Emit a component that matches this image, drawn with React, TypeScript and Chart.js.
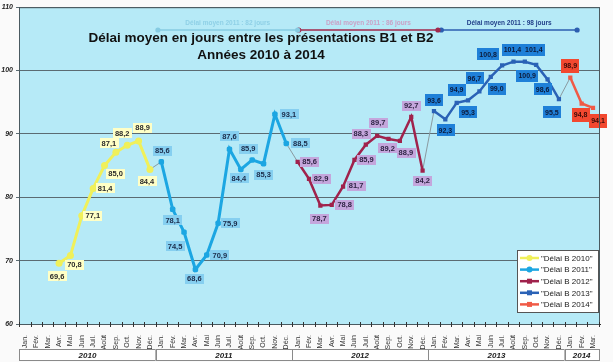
import React, { useEffect, useRef } from 'react';
import { Chart, registerables } from 'chart.js';
Chart.register(...registerables);

const FONT = '"Liberation Sans", Arial, sans-serif';

const monthLabels = ['Jan.', 'Fév.', 'Mar.', 'Avr.', 'Mai', 'Juin', 'Juil.', 'Août', 'Sep.', 'Oct.', 'Nov.', 'Déc.'];
const years = ['2010', '2011', '2012', '2013', '2014'];
const monthsPerYear = [12, 12, 12, 12, 3];

const delai2010 = [null, null, null, 69.6, 70.8, 77.1, 81.4, 85.0, 87.1, 88.2, 88.9, 84.4];
const delai2011 = [85.6, 78.1, 74.5, 68.6, 70.9, 75.9, 87.6, 84.4, 85.9, 85.3, 93.1, 88.5];
const delai2012 = [85.6, 82.9, 78.7, 78.8, 81.7, 85.9, 88.3, 89.7, 89.2, 88.9, 92.7, 84.2];
const delai2013 = [93.6, 92.3, 94.9, 95.3, 96.7, 99.0, 100.8, 101.4, 101.4, 100.9, 98.6, 95.5];
const delai2014 = [98.9, 94.8, 94.1];

const avgTexts = ['Délai moyen 2011 : 82 jours', 'Délai moyen 2011 : 86 jours', 'Délai moyen 2011 : 98 jours'];
const titleLines = ['Délai moyen en jours entre les présentations B1 et B2', 'Années 2010 à 2014'];

// ---- layout / style (not data) ----
const AVG_LEVEL = 106.4;
const avgSpans = [[11.7, 24.0], [24.1, 36.35], [36.65, 48.6]];
const avgStyles = [
  { line: '#86cbe2', text: '#8fd0e6' },
  { line: '#a0284c', text: '#caa2c6' },
  { line: '#2c5eb0', text: '#22408a' },
];

const off2010 = [null, null, null, [-2, 13], [4, 9], [11, 0], [12, 0], [11, 8], [-7, -9], [-5, -12], [4, -13], [-3, 12]];
const off2011 = [[1, -11], [0, 11], [-9, 14], [-1, 9], [13, 0], [12, 0], [0, -13], [-2, 9], [-4, -11], [0, 11], [14, 0], [14, 0]];
const off2012 = [[12, 0], [12, 0], [-1, 13], [13, 0], [13, -1], [12, 0], [-5, -11], [1, -13], [-1, 9], [6, 12], [0, -11], [0, 10]];
const off2013 = [[0, -11], [0, 11], [0, -13], [0, 12], [-5, -13], [6, 12], [-14, -11], [-1, -12], [9, -12], [-9, 11], [-5, 10], [-7, 13]];
const off2014 = [[0, -12], [-1, 11], [5, 13]];

const allLabels: string[] = years.flatMap((_, yi) => monthLabels.slice(0, monthsPerYear[yi]));
const yearStart = monthsPerYear.map((_, i) => monthsPerYear.slice(0, i).reduce((a, b) => a + b, 0));

const seriesDefs = [
  { label: '"Délai B 2010"', values: delai2010, offsets: off2010, color: '#f0f05a', style: 'circle', radius: 3.5, width: 3, bg: '#ffffc6', fg: '#2a2a2a', boxH: 10 },
  { label: '"Délai B 2011"', values: delai2011, offsets: off2011, color: '#1ca6e2', style: 'rectRounded', radius: 3.2, width: 3, bg: '#86cff0', fg: '#1a2a48', boxH: 10 },
  { label: '"Délai B 2012"', values: delai2012, offsets: off2012, color: '#a0224c', style: 'rect', radius: 3, width: 2.5, bg: '#c4a6dc', fg: '#2e2444', boxH: 10 },
  { label: '"Délai B 2013"', values: delai2013, offsets: off2013, color: '#2a62b6', style: 'rect', radius: 3, width: 2.5, bg: '#1f80d8', fg: '#0c1a3a', boxH: 12 },
  { label: '"Délai B 2014"', values: delai2014, offsets: off2014, color: '#f05a46', style: 'rect', radius: 3, width: 2.5, bg: '#f2482f', fg: '#3a0c08', boxH: 14 },
];

function fmt(v: number) {
  return v.toFixed(1).replace('.', ',');
}

function seriesPoints(si: number) {
  const vals = seriesDefs[si].values;
  const pts: { x: number; y: number }[] = [];
  vals.forEach((v, i) => {
    if (v !== null && v !== undefined) pts.push({ x: yearStart[si] + i, y: v as number });
  });
  return pts;
}

export default function App() {
  const ref = useRef<HTMLCanvasElement>(null);

  useEffect(() => {
    document.body.style.margin = '0';
    const canvas = ref.current!;

    const datasets: any[] = [];
    seriesDefs.forEach((s, si) => {
      datasets.push({
        type: 'line',
        label: s.label,
        data: seriesPoints(si),
        borderColor: s.color,
        backgroundColor: s.color,
        borderWidth: s.width,
        pointStyle: s.style,
        pointRadius: s.radius,
        pointBackgroundColor: s.color,
        pointBorderColor: s.color,
        pointBorderWidth: 0,
        tension: 0,
        order: si + 1,
        isSeries: true,
        seriesIndex: si,
      });
    });
    // connectors between years
    for (let si = 0; si < seriesDefs.length - 1; si++) {
      const a = seriesPoints(si);
      const b = seriesPoints(si + 1);
      datasets.push({
        type: 'line',
        data: [a[a.length - 1], b[0]],
        borderColor: '#8a9aa0',
        borderWidth: 1,
        pointRadius: 0,
        tension: 0,
        order: 20,
      });
    }
    // average lines
    avgSpans.forEach((sp, i) => {
      datasets.push({
        type: 'line',
        data: [{ x: sp[0], y: AVG_LEVEL }, { x: sp[1], y: AVG_LEVEL }],
        borderColor: avgStyles[i].line,
        backgroundColor: avgStyles[i].line,
        borderWidth: 1.5,
        pointRadius: 2.6,
        pointBackgroundColor: avgStyles[i].line,
        pointBorderWidth: 0,
        tension: 0,
        order: 15,
      });
    });

    const decor = {
      id: 'decor',
      beforeDraw(chart: any) {
        const { ctx, chartArea: a } = chart;
        ctx.save();
        ctx.fillStyle = '#fafafa';
        ctx.fillRect(0, 0, chart.width, chart.height);
        ctx.fillStyle = '#b6eaf7';
        ctx.fillRect(a.left, a.top, a.right - a.left, a.bottom - a.top);
        ctx.restore();
      },
      afterDatasetsDraw(chart: any) {
        const { ctx } = chart;
        ctx.save();
        chart.data.datasets.forEach((ds: any, di: number) => {
          if (!ds.isSeries) return;
          const s = seriesDefs[ds.seriesIndex];
          const meta = chart.getDatasetMeta(di);
          let k = 0;
          s.values.forEach((v: any, i: number) => {
            if (v === null || v === undefined) return;
            const el = meta.data[k++];
            const off = s.offsets[i] || [0, 0];
            const cx = el.x + off[0];
            const cy = el.y + off[1];
            const txt = fmt(v);
            ctx.font = `bold ${s.boxH > 10 ? 7 : 7.5}px ${FONT}`;
            const w = ctx.measureText(txt).width + 4;
            const h = s.boxH;
            ctx.fillStyle = s.bg;
            ctx.fillRect(Math.round(cx - w / 2), Math.round(cy - h / 2), Math.round(w), h);
            ctx.fillStyle = s.fg;
            ctx.textAlign = 'center';
            ctx.textBaseline = 'middle';
            ctx.fillText(txt, cx, cy + 0.5);
          });
        });
        ctx.restore();
      },
      afterDraw(chart: any) {
        const { ctx, chartArea: a } = chart;
        const xs = chart.scales.x;
        const ys = chart.scales.y;
        ctx.save();
        // plot border
        ctx.strokeStyle = '#4a5a60';
        ctx.lineWidth = 1;
        ctx.strokeRect(a.left + 0.5, a.top + 0.5, a.right - a.left - 1, a.bottom - a.top);
        // x tick marks at month boundaries
        ctx.strokeStyle = '#333';
        for (let i = 0; i <= allLabels.length; i++) {
          const x = Math.round(xs.getPixelForValue(i - 0.5)) + 0.5;
          if (x < a.left - 1 || x > a.right + 1) continue;
          ctx.beginPath();
          ctx.moveTo(x, a.bottom - 2);
          ctx.lineTo(x, a.bottom + 3);
          ctx.stroke();
        }
        // year boxes
        years.forEach((y, yi) => {
          const s = yearStart[yi];
          const e = s + monthsPerYear[yi] - 1;
          const x1 = Math.max(a.left, xs.getPixelForValue(s - 0.5));
          const x2 = Math.min(a.right, xs.getPixelForValue(e + 0.5));
          ctx.fillStyle = '#ffffff';
          ctx.fillRect(x1, 349, x2 - x1, 12);
          ctx.strokeStyle = '#8a8a8a';
          ctx.strokeRect(Math.round(x1) + 0.5, 349.5, Math.round(x2 - x1), 11);
          ctx.fillStyle = '#222';
          ctx.font = `bold italic 8px ${FONT}`;
          ctx.textAlign = 'center';
          ctx.textBaseline = 'middle';
          ctx.fillText(y, (x1 + x2) / 2, 355.5);
        });
        // title
        ctx.fillStyle = '#111';
        ctx.font = `bold 13.5px ${FONT}`;
        ctx.textAlign = 'center';
        ctx.textBaseline = 'middle';
        ctx.fillText(titleLines[0], 261, 38);
        ctx.fillText(titleLines[1], 261, 55);
        // average texts
        const yAvg = ys.getPixelForValue(AVG_LEVEL);
        avgSpans.forEach((sp, i) => {
          const cx = (xs.getPixelForValue(sp[0]) + xs.getPixelForValue(sp[1])) / 2;
          ctx.font = `bold 6.5px ${FONT}`;
          ctx.fillStyle = avgStyles[i].text;
          ctx.fillText(avgTexts[i], cx, yAvg - 7);
        });
        // legend
        const lx = 517, ly = 250, lw = 81, lh = 62;
        ctx.fillStyle = '#ffffff';
        ctx.fillRect(lx, ly, lw, lh);
        ctx.strokeStyle = '#555';
        ctx.strokeRect(lx + 0.5, ly + 0.5, lw, lh);
        seriesDefs.forEach((s, i) => {
          const yy = 258 + i * 11.6;
          ctx.strokeStyle = s.color;
          ctx.lineWidth = 2.5;
          ctx.beginPath();
          ctx.moveTo(520, yy);
          ctx.lineTo(539, yy);
          ctx.stroke();
          ctx.fillStyle = s.color;
          if (s.style === 'circle' || s.style === 'rectRounded') {
            ctx.beginPath();
            ctx.arc(529.5, yy, 3, 0, Math.PI * 2);
            ctx.fill();
          } else {
            ctx.fillRect(527, yy - 2.5, 5, 5);
          }
          ctx.fillStyle = '#1a1a1a';
          ctx.font = `8px ${FONT}`;
          ctx.textAlign = 'left';
          ctx.textBaseline = 'middle';
          ctx.fillText(s.label, 541, yy + 0.5);
        });
        ctx.restore();
      },
    };

    const chart = new Chart(canvas, {
      type: 'line',
      data: { datasets },
      options: {
        responsive: false,
        animation: false,
        devicePixelRatio: 1,
        layout: { padding: { left: 0, right: 13, top: 4, bottom: 0 } },
        plugins: { legend: { display: false }, tooltip: { enabled: false }, title: { display: false } },
        scales: {
          x: {
            type: 'linear',
            min: -0.528,
            max: 50.616,
            afterBuildTicks: (axis: any) => {
              axis.ticks = allLabels.map((_, i) => ({ value: i }));
            },
            afterFit: (axis: any) => {
              axis.height = 38;
            },
            ticks: {
              autoSkip: false,
              minRotation: 90,
              maxRotation: 90,
              padding: 3,
              color: '#333',
              font: { family: FONT, size: 7 },
              callback: (v: any) => allLabels[Math.round(v)] ?? '',
            },
            grid: { display: false },
            border: { display: true, color: '#333', width: 1 },
          },
          y: {
            type: 'linear',
            min: 60,
            max: 110,
            afterFit: (axis: any) => {
              axis.width = 19;
            },
            ticks: {
              stepSize: 10,
              padding: 3,
              color: '#222',
              font: { family: FONT, size: 7, style: 'italic', weight: 'bold' },
            },
            grid: { color: '#5b6b72', lineWidth: 1, tickLength: 3, drawTicks: true },
            border: { display: true, color: '#333', width: 1 },
          },
        },
      } as any,
      plugins: [decor],
    });
    return () => chart.destroy();
  }, []);

  return (
    <div style={{ position: 'fixed', left: 0, top: 0, width: 613, height: 362 }}>
      <canvas ref={ref} width={613} height={362} style={{ width: 613, height: 362, display: 'block' }} />
    </div>
  );
}
